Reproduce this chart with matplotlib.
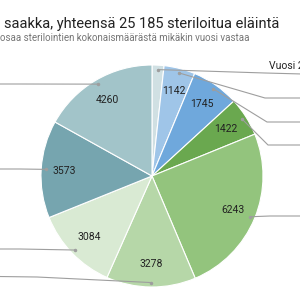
import matplotlib
matplotlib.use("Agg")
import numpy as np
from matplotlib import pyplot as plt

plt.rcParams["font.family"] = ["Roboto", "DejaVu Sans"]

# Data (clockwise from 12 o'clock)
years = ["Vuosi 2015", "Vuosi 2016", "Vuosi 2017", "Vuosi 2018", "Vuosi 2019",
         "Vuosi 2020", "Vuosi 2021", "Vuosi 2022", "Vuosi 2023"]
counts = [438, 1142, 1745, 1422, 6243, 3278, 3084, 3573, 4260]
colors = ["#d0e0e3", "#9fc5e8", "#6fa8dc", "#6aa84f", "#93c47d",
          "#b6d7a8", "#d9ead3", "#76a5af", "#a2c4c9"]
title = "saakka, yhteensä 25 185 steriloitua eläintä"
subtitle = "osaa sterilointien kokonaismäärästä mikäkin vuosi vastaa"

total = sum(counts)

# Layout in pixel coordinates (y down)
center = (152, 176)
radius = 111
# leader line elbows, line ends and label start x for each slice
elbows = [(265, 73), (265, 98), (267, 122), (268, 145), (270, 216),
          (37, 277), (20, 249), (20, 169), (20, 84)]
ends = [(340, 75), (340, 98), (340, 122), (340, 145), (340, 216),
        (-40, 276), (-40, 249), (-40, 169), (-40, 84)]
label_x = [269, 305, 305, 305, 305, -5, -5, -5, -5]

fig = plt.figure(figsize=(3, 3), dpi=100)
ax = fig.add_axes([0, 0, 1, 1])


def value_label(pct):
    v = int(round(pct * total / 100))
    return f"{v}" if v > 500 else ""


wedges, texts, autotexts = ax.pie(
    counts, colors=colors, startangle=-90, counterclock=True,
    center=center, radius=radius, autopct=value_label, pctdistance=0.79,
    wedgeprops=dict(edgecolor="white", linewidth=0.8),
    textprops=dict(fontsize=7.5, color="#222222"),
)

# Leader lines to (cropped) year labels
for i, w in enumerate(wedges):
    ang = np.deg2rad((w.theta1 + w.theta2) / 2)
    ax_x = center[0] + 0.96 * radius * np.cos(ang)
    ax_y = center[1] + 0.96 * radius * np.sin(ang)
    ex, ey = elbows[i]
    tx, ty = ends[i]
    ax.plot([ax_x, ex, tx], [ax_y, ey, ty], color="#9e9e9e", lw=0.8,
            solid_capstyle="butt")
    ax.plot([ax_x], [ax_y], "o", color="#9e9e9e", ms=1.5)
    ax.text(label_x[i], ey - 2, years[i], fontsize=7.5, color="#222222",
            ha="left" if tx > 0 else "right", va="bottom", clip_on=True)

ax.set_xlim(0, 300)
ax.set_ylim(300, 0)
ax.set_aspect("equal")
ax.axis("off")

fig.text(4 / 300, 1 - 24 / 300, title, fontsize=10.5, color="#222222",
         ha="left", va="center")
fig.text(0, 1 - 38 / 300, subtitle, fontsize=7, color="#757575",
         ha="left", va="center")

fig.savefig("out.png", dpi=100)
